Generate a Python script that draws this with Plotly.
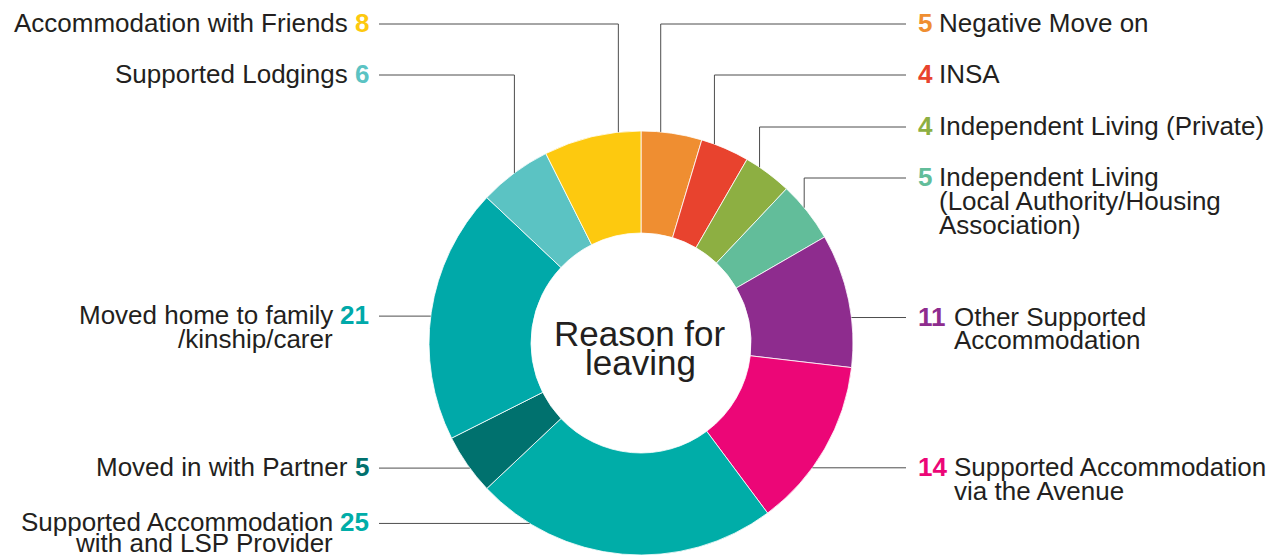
import math
import plotly.graph_objects as go

# ---------------- data ----------------
categories = [
    "Negative Move on",
    "INSA",
    "Independent Living (Private)",
    "Independent Living (Local Authority/Housing Association)",
    "Other Supported Accommodation",
    "Supported Accommodation via the Avenue",
    "Supported Accommodation with and LSP Provider",
    "Moved in with Partner",
    "Moved home to family /kinship/carer",
    "Supported Lodgings",
    "Accommodation with Friends",
]
values = [5, 4, 4, 5, 11, 14, 25, 5, 21, 6, 8]
label_lines = [
    ["Negative Move on"],
    ["INSA"],
    ["Independent Living (Private)"],
    ["Independent Living", "(Local Authority/Housing", "Association)"],
    ["Other Supported", "Accommodation"],
    ["Supported Accommodation", "via the Avenue"],
    ["Supported Accommodation", "with and LSP Provider"],
    ["Moved in with Partner"],
    ["Moved home to family", "/kinship/carer"],
    ["Supported Lodgings"],
    ["Accommodation with Friends"],
]
center_title = ["Reason for", "leaving"]

# ---------------- styles / layout positions ----------------
colors = ["#EF8E31", "#E8432E", "#8DAF42", "#62BD9A", "#8E2C8E", "#EC0677",
          "#00ADA8", "#00716E", "#00A9A9", "#5BC3C3", "#FDC90F"]
sides = ["R", "R", "R", "R", "R", "R", "L", "L", "L", "L", "L"]
anchor_frac = [0.32, 0.27, 0.30, 0.42, 0.63, 0.63, 0.82, 0.43, 0.485, 0.5, 0.77]
label_line_y = [24, 75, 127, 178, None, None, None, None, None, 75, 24]
line_spacing = [24, 24, 24, 24, 23, 24, 21, 24, 24, 24, 24]

W, H = 1288, 555
CX, CY, R = 641, 343, 212
HOLE = 110 / 212
FONT = "Liberation Sans, Arial, sans-serif"
FS = 26
TXT = "#231f20"
LINE = "#4d4d4d"
RIGHT_LINE_END, RIGHT_TEXT_X = 906, 916
LEFT_LINE_START, LEFT_TEXT_X = 379, 371
DIGIT_W = 0.556 * FS
SPACE_W = 7


def px(x):
    return x / W


def py(y):
    return 1 - y / H


fig = go.Figure(go.Pie(
    labels=categories,
    values=values,
    marker=dict(colors=colors, line=dict(color="white", width=0.8)),
    hole=HOLE,
    sort=False,
    direction="clockwise",
    rotation=0,
    textinfo="none",
    hoverinfo="label+value",
    showlegend=False,
    domain=dict(x=[px(CX - R), px(CX + R)], y=[py(CY + R), py(CY - R)]),
))

shapes = []
annotations = []
total = sum(values)
cum = 0
for i, v in enumerate(values):
    ang = (cum + anchor_frac[i] * v) / total * 2 * math.pi
    cum += v
    ax = CX + R * math.sin(ang)
    ay = CY - R * math.cos(ang)
    ly = label_line_y[i] if label_line_y[i] is not None else ay
    lx = RIGHT_LINE_END if sides[i] == "R" else LEFT_LINE_START
    path = f"M {px(ax)},{py(ay)} L {px(ax)},{py(ly)} L {px(lx)},{py(ly)}"
    shapes.append(dict(type="path", path=path, xref="paper", yref="paper",
                       line=dict(color=LINE, width=1)))

    num = str(v)
    num_w = DIGIT_W * len(num)
    ty = ly - 1
    if sides[i] == "R":
        annotations.append(dict(
            x=px(RIGHT_TEXT_X), y=py(ty), xanchor="left", yanchor="middle",
            text=f"<b>{num}</b>", font=dict(family=FONT, size=FS, color=colors[i])))
        tx = RIGHT_TEXT_X + num_w + SPACE_W
        xa = "left"
    else:
        annotations.append(dict(
            x=px(LEFT_TEXT_X), y=py(ty), xanchor="right", yanchor="middle",
            text=f"<b>{num}</b>", font=dict(family=FONT, size=FS, color=colors[i])))
        tx = LEFT_TEXT_X - num_w - SPACE_W
        xa = "right"
    for k, line in enumerate(label_lines[i]):
        annotations.append(dict(
            x=px(tx), y=py(ty + k * line_spacing[i]), xanchor=xa, yanchor="middle",
            text=line, font=dict(family=FONT, size=FS, color=TXT)))

for k, t in enumerate(center_title):
    annotations.append(dict(
        x=px(CX - 1), y=py(333 + k * 29), xanchor="center", yanchor="middle",
        text=t, font=dict(family=FONT, size=35, color=TXT)))

for a in annotations:
    a.update(xref="paper", yref="paper", showarrow=False)

fig.update_layout(
    width=W, height=H,
    margin=dict(l=0, r=0, t=0, b=0),
    paper_bgcolor="white", plot_bgcolor="white",
    shapes=shapes, annotations=annotations,
)

fig.write_html("out.html", config={"displayModeBar": False})
